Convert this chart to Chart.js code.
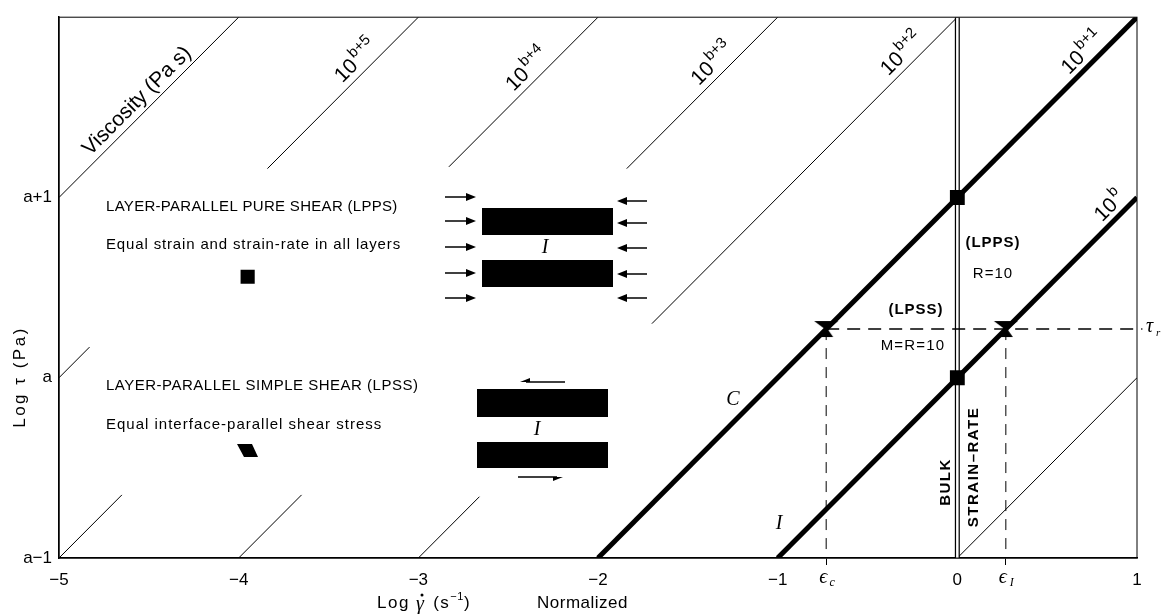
<!DOCTYPE html>
<html>
<head>
<meta charset="utf-8">
<script src="https://cdn.jsdelivr.net/npm/chart.js@4.4.1/dist/chart.umd.min.js"></script>
<style>
  html, body { margin: 0; padding: 0; background: #fff; }
  canvas { display: block; }
</style>
</head>
<body>
<canvas id="chart" width="1161" height="614"></canvas>
<script>
// Log strain-rate (normalized) vs log shear stress, with viscosity contours

const SANS = '"Liberation Sans", Arial, Helvetica, sans-serif';
const SERIF = '"Liberation Serif", "Times New Roman", serif';

const xTicks = [-5, -4, -3, -2, -1, 0, 1];
const yTicks = [-1, 0, 1];
const yTickLabels = ['a\u22121', 'a', 'a+1'];

const tauStar = 0.27;  // dashed stress level
const epsC = -0.73;    // strain-rate, competent layer
const epsI = 0.27;     // strain-rate, incompetent layer

// thick contours
const lineC = [{ x: -2, y: -1 }, { x: 1, y: 2 }];   // 10^(b+1)
const lineI = [{ x: -1, y: -1 }, { x: 1, y: 1 }];   // 10^b
const bulkRate = [{ x: 0, y: -1 }, { x: 0, y: 2 }];

// thin contours, broken where the text sits
const thinSegments = [
  [{ x: -5, y: 1 }, { x: -4, y: 2 }],
  [{ x: -5, y: 0 }, { x: -4.83, y: 0.17 }],
  [{ x: -3.84, y: 1.16 }, { x: -3, y: 2 }],
  [{ x: -5, y: -1 }, { x: -4.65, y: -0.65 }],
  [{ x: -2.83, y: 1.17 }, { x: -2, y: 2 }],
  [{ x: -4, y: -1 }, { x: -3.65, y: -0.65 }],
  [{ x: -1.84, y: 1.16 }, { x: -1, y: 2 }],
  [{ x: -3, y: -1 }, { x: -2.66, y: -0.66 }],
  [{ x: -1.7, y: 0.3 }, { x: 0, y: 2 }],
  [{ x: 0, y: -1 }, { x: 1, y: 0 }]
];

const lppsPoints = [{ x: 0, y: 1 }, { x: 0, y: 0 }];
const lpssPoints = [{ x: epsC, y: tauStar }, { x: epsI, y: tauStar }];
const tauLine = [{ x: epsC, y: tauStar }, { x: 1.03, y: tauStar }];
const epsCLine = [{ x: epsC, y: tauStar }, { x: epsC, y: -1 }];
const epsILine = [{ x: epsI, y: tauStar }, { x: epsI, y: -1 }];
const lppsSymbol = [{ x: -3.95, y: 0.56 }];

// contour labels: point on the line, text, superscript
const contourLabels = [
  { x: -4.515, y: 1.485, base: 'Viscosity (Pa s)', sup: '' },
  { x: -3.295, y: 1.705, base: '10', sup: 'b+5' },
  { x: -2.342, y: 1.658, base: '10', sup: 'b+4' },
  { x: -1.311, y: 1.689, base: '10', sup: 'b+3' },
  { x: -0.256, y: 1.744, base: '10', sup: 'b+2' },
  { x: 0.75, y: 1.75, base: '10', sup: 'b+1' },
  { x: 0.90, y: 0.90, base: '10', sup: 'b' }
];

function fmtTick(v) {
  return v < 0 ? '\u2212' + Math.abs(v) : String(v);
}

// bow-tie marker for the LPSS points
function makeBowtie() {
  const c = document.createElement('canvas');
  c.width = 26; c.height = 18;
  const g = c.getContext('2d');
  g.fillStyle = '#000';
  g.beginPath();
  g.moveTo(1, 1); g.lineTo(25, 1); g.lineTo(13, 10); g.closePath();
  g.fill();
  g.beginPath();
  g.moveTo(13, 7); g.lineTo(20, 17); g.lineTo(6, 17); g.closePath();
  g.fill();
  return c;
}

function arrow(ctx, x0, y, x1, half) {
  const dir = Math.sign(x1 - x0);
  ctx.beginPath();
  ctx.moveTo(x0, y);
  ctx.lineTo(x1 - dir * 6, y);
  ctx.stroke();
  ctx.beginPath();
  ctx.moveTo(x1, y);
  if (half === 'up') {
    ctx.lineTo(x1 - dir * 10, y - 4);
    ctx.lineTo(x1 - dir * 10, y);
  } else if (half === 'down') {
    ctx.lineTo(x1 - dir * 10, y + 4);
    ctx.lineTo(x1 - dir * 10, y);
  } else {
    ctx.lineTo(x1 - dir * 10, y - 4);
    ctx.lineTo(x1 - dir * 10, y + 4);
  }
  ctx.closePath();
  ctx.fill();
}

function text(ctx, s, x, y, font, align, spacing) {
  ctx.font = font;
  ctx.letterSpacing = (spacing || 0) + 'px';
  ctx.textAlign = align || 'left';
  ctx.textBaseline = 'middle';
  ctx.fillText(s, x, y);
  const w = ctx.measureText(s).width;
  ctx.letterSpacing = '0px';
  return w;
}

const decorations = {
  id: 'decorations',
  afterDatasetsDraw(chart) {
    const ctx = chart.ctx;
    const xs = chart.scales.x, ys = chart.scales.y;
    const a = chart.chartArea;
    ctx.save();
    ctx.fillStyle = '#000';
    ctx.strokeStyle = '#000';

    // frame
    ctx.lineWidth = 1;
    ctx.strokeRect(a.left, a.top, a.right - a.left, a.bottom - a.top);

    // contour labels, rotated along the lines
    const ang = Math.atan2(ys.getPixelForValue(1) - ys.getPixelForValue(0),
                           xs.getPixelForValue(1) - xs.getPixelForValue(0));
    contourLabels.forEach(l => {
      const px = xs.getPixelForValue(l.x), py = ys.getPixelForValue(l.y);
      ctx.save();
      ctx.translate(px, py);
      ctx.rotate(ang);
      ctx.textBaseline = 'alphabetic';
      ctx.textAlign = 'left';
      ctx.font = '21px ' + SANS;
      const wb = ctx.measureText(l.base).width;
      ctx.font = '15px ' + SANS;
      const ws = l.sup ? ctx.measureText(l.sup).width + 2 : 0;
      const x0 = -(wb + ws) / 2;
      ctx.font = '21px ' + SANS;
      ctx.fillText(l.base, x0, -7);
      if (l.sup) {
        ctx.font = '15px ' + SANS;
        ctx.fillText(l.sup, x0 + wb + 2, -17);
      }
      ctx.restore();
    });

    // left text block
    text(ctx, 'LAYER-PARALLEL PURE SHEAR (LPPS)', 106, 207, '15px ' + SANS, 'left', 0.3);
    text(ctx, 'Equal strain and strain-rate in all layers', 106, 245, '15px ' + SANS, 'left', 0.85);
    text(ctx, 'LAYER-PARALLEL SIMPLE SHEAR (LPSS)', 106, 386, '15px ' + SANS, 'left', 0.5);
    text(ctx, 'Equal interface-parallel shear stress', 106, 425, '15px ' + SANS, 'left', 1);

    // LPSS symbol (parallelogram)
    ctx.beginPath();
    ctx.moveTo(237, 444); ctx.lineTo(252, 444); ctx.lineTo(258, 457); ctx.lineTo(244, 457);
    ctx.closePath();
    ctx.fill();

    // LPPS sketch
    ctx.fillRect(482, 208, 131, 27);
    ctx.fillRect(482, 260, 131, 27);
    ctx.lineWidth = 1.5;
    [197, 221, 247, 273, 298].forEach(y => arrow(ctx, 445, y, 476));
    [201, 223, 248, 274, 298].forEach(y => arrow(ctx, 647, y, 617));
    text(ctx, 'I', 545, 248, 'italic 20px ' + SERIF, 'center');

    // LPSS sketch
    ctx.fillRect(477, 389, 131, 28);
    ctx.fillRect(477, 442, 131, 26);
    arrow(ctx, 565, 382, 520, 'up');
    arrow(ctx, 518, 477, 563, 'down');
    text(ctx, 'I', 537, 430, 'italic 20px ' + SERIF, 'center');

    // curve names
    text(ctx, 'C', 733, 400, 'italic 20px ' + SERIF, 'center');
    text(ctx, 'I', 779, 524, 'italic 20px ' + SERIF, 'center');

    // annotations near x = 0
    text(ctx, '(LPPS)', 993, 243, 'bold 15px ' + SANS, 'center', 1);
    text(ctx, 'R=10', 993, 274, '15px ' + SANS, 'center', 1);
    text(ctx, '(LPSS)', 916, 310, 'bold 15px ' + SANS, 'center', 1);
    text(ctx, 'M=R=10', 913, 346, '15px ' + SANS, 'center', 1.2);
    ctx.save();
    ctx.translate(946, 482); ctx.rotate(-Math.PI / 2);
    text(ctx, 'BULK', 0, 0, 'bold 15px ' + SANS, 'center', 1.5);
    ctx.restore();
    ctx.save();
    ctx.translate(974, 467); ctx.rotate(-Math.PI / 2);
    text(ctx, 'STRAIN\u2013RATE', 0, 0, 'bold 15px ' + SANS, 'center', 1.5);
    ctx.restore();

    // tau label at the right end of the dashed line
    text(ctx, '\u03C4', 1146, 327, 'italic 20px ' + SERIF);
    text(ctx, 'r', 1156, 333, 'italic 11px ' + SERIF);

    // epsilon tick labels
    [[epsC, 'c'], [epsI, 'I']].forEach(([v, sub]) => {
      const px = xs.getPixelForValue(v);
      text(ctx, '\u03F5', px - 3, 578, 'italic 20px ' + SERIF, 'center');
      text(ctx, sub, px + 6, 583, 'italic 12px ' + SERIF, 'center');
    });

    // axis titles
    ctx.save();
    ctx.translate(20, 377); ctx.rotate(-Math.PI / 2);
    text(ctx, 'Log \u03C4 (Pa)', 0, 0, '17px ' + SANS, 'center', 2.5);
    ctx.restore();
    let tx = 377;
    tx += text(ctx, 'Log ', tx, 603, '17px ' + SANS, 'left', 1.5);
    const gw = text(ctx, '\u03B3', tx, 605, 'italic 20px ' + SERIF);
    ctx.beginPath();
    ctx.arc(tx + gw / 2 + 2, 595, 1.5, 0, Math.PI * 2);
    ctx.fill();
    tx += gw + 3;
    tx += text(ctx, ' (s', tx, 603, '17px ' + SANS, 'left', 1.5);
    tx += text(ctx, '\u22121', tx, 597, '11px ' + SANS, 'left', 0.5);
    text(ctx, ')', tx, 603, '17px ' + SANS);
    text(ctx, 'Normalized', 537, 603, '17px ' + SANS, 'left', 0.5);

    ctx.restore();
  }
};

const thinDatasets = thinSegments.map(seg => ({
  data: seg, borderColor: '#000', borderWidth: 1, pointRadius: 0, showLine: true, order: 6
}));

new Chart(document.getElementById('chart'), {
  type: 'scatter',
  data: {
    datasets: [
      { data: lppsPoints, pointStyle: 'rect', pointRadius: 10.5, backgroundColor: '#000', borderWidth: 0, order: 0 },
      { data: lpssPoints, pointStyle: makeBowtie(), backgroundColor: '#000', order: 0 },
      { data: lppsSymbol, pointStyle: 'rect', pointRadius: 10, backgroundColor: '#000', borderWidth: 0, order: 0 },
      { data: tauLine, showLine: true, borderColor: '#000', borderWidth: 1.6, borderDash: [13, 8], pointRadius: 0, clip: false, order: 1 },
      { data: epsCLine, showLine: true, borderColor: '#000', borderWidth: 1, borderDash: [11, 8], pointRadius: 0, order: 1 },
      { data: epsILine, showLine: true, borderColor: '#000', borderWidth: 1, borderDash: [11, 8], pointRadius: 0, order: 1 },
      { data: lineC, showLine: true, borderColor: '#000', borderWidth: 5, pointRadius: 0, order: 2 },
      { data: lineI, showLine: true, borderColor: '#000', borderWidth: 5, pointRadius: 0, order: 2 },
      { data: bulkRate, showLine: true, borderColor: '#fff', borderWidth: 2.5, pointRadius: 0, order: 3 },
      { data: bulkRate, showLine: true, borderColor: '#000', borderWidth: 5, pointRadius: 0, order: 4 },
      ...thinDatasets
    ]
  },
  options: {
    responsive: false,
    animation: false,
    devicePixelRatio: 1,
    layout: { padding: { top: 14, right: 24, left: 0, bottom: 0 } },
    plugins: { legend: { display: false }, tooltip: { enabled: false } },
    scales: {
      x: {
        type: 'linear', min: -5, max: 1,
        afterFit: s => { s.height = 56; },
        afterBuildTicks: s => { s.ticks = [...xTicks, epsC, epsI].map(v => ({ value: v })); },
        ticks: {
          autoSkip: false, maxRotation: 0, padding: 5, color: '#000',
          font: { family: SANS, size: 17 },
          callback: v => xTicks.includes(v) ? fmtTick(v) : ''
        },
        grid: {
          drawOnChartArea: false, drawTicks: true, tickLength: 7, lineWidth: 1,
          color: c => (c.tick && xTicks.includes(c.tick.value)) ? 'rgba(0,0,0,0)' : '#000'
        },
        border: { display: true, color: '#000', width: 1.5 }
      },
      y: {
        type: 'linear', min: -1, max: 2,
        afterFit: s => { s.width = 59; },
        afterBuildTicks: s => { s.ticks = yTicks.map(v => ({ value: v })); },
        ticks: {
          padding: 7, color: '#000', font: { family: SANS, size: 17 },
          callback: v => yTickLabels[yTicks.indexOf(v)]
        },
        grid: { display: false, drawTicks: false },
        border: { display: true, color: '#000', width: 1.5 }
      }
    }
  },
  plugins: [decorations]
});
</script>
</body>
</html>
